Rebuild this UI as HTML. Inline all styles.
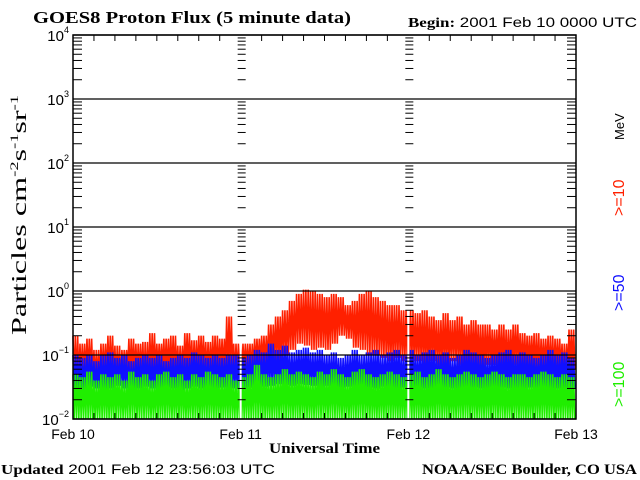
<!DOCTYPE html>
<html><head><meta charset="utf-8"><style>
body{margin:0;background:#fff;width:640px;height:480px;overflow:hidden}
svg{display:block}
</style></head><body>
<svg id="c" width="640" height="480" xmlns="http://www.w3.org/2000/svg">
<text x="33" y="23" textLength="318" lengthAdjust="spacingAndGlyphs" font-family="Liberation Serif, serif" font-weight="bold" font-size="17">GOES8 Proton Flux (5 minute data)</text>
<text x="408" y="27" textLength="229" lengthAdjust="spacingAndGlyphs" font-family="Liberation Sans, sans-serif" font-size="14"><tspan font-family="Liberation Serif, serif" font-weight="bold">Begin:</tspan> 2001 Feb 10 0000 UTC</text>
<text x="1" y="474" textLength="274" lengthAdjust="spacingAndGlyphs" font-family="Liberation Sans, sans-serif" font-size="14"><tspan font-family="Liberation Serif, serif" font-weight="bold">Updated</tspan> 2001 Feb 12 23:56:03 UTC</text>
<text x="422" y="474" textLength="215" lengthAdjust="spacingAndGlyphs" font-family="Liberation Serif, serif" font-weight="bold" font-size="15">NOAA/SEC Boulder, CO USA</text>
<text x="269" y="453" textLength="111" lengthAdjust="spacingAndGlyphs" font-family="Liberation Serif, serif" font-weight="bold" font-size="15">Universal Time</text>
<text transform="translate(26,335) rotate(-90)" textLength="240" lengthAdjust="spacingAndGlyphs" font-family="Liberation Serif, serif" font-size="21">Particles cm<tspan font-size="12" dy="-8">-2</tspan><tspan dy="8">s</tspan><tspan font-size="12" dy="-8">-1</tspan><tspan dy="8">sr</tspan><tspan font-size="12" dy="-8">-1</tspan></text>
<text transform="translate(624,140) rotate(-90)" font-family="Liberation Sans, sans-serif" font-size="13" fill="#000">MeV</text>
<text transform="translate(624,216) rotate(-90)" font-family="Liberation Sans, sans-serif" font-size="16" fill="#ff2000">&gt;=10</text>
<text transform="translate(624,311) rotate(-90)" font-family="Liberation Sans, sans-serif" font-size="16" fill="#1010ff">&gt;=50</text>
<text transform="translate(624,407) rotate(-90)" font-family="Liberation Sans, sans-serif" font-size="16" fill="#20ee00">&gt;=100</text>
<g id="g"></g>
</svg>
<script>
const dayLabels=["Feb 10","Feb 11","Feb 12","Feb 13"];
const decadeExps=[-2,-1,0,1,2,3,4];
// hourly envelopes (max / min of 5-minute flux within each hour)
const redHi=[0.2,0.15,0.18,0.12,0.15,0.2,0.14,0.12,0.18,0.15,0.16,0.22,0.15,0.18,0.2,0.14,0.22,0.17,0.2,0.16,0.2,0.18,0.4,0.15,
0.15,0.15,0.18,0.2,0.3,0.4,0.5,0.7,0.9,1.05,1.0,0.9,0.8,0.9,0.8,0.6,0.7,0.9,1.0,0.8,0.7,0.6,0.6,0.5,
0.5,0.45,0.5,0.4,0.35,0.45,0.35,0.4,0.3,0.35,0.3,0.3,0.25,0.3,0.25,0.3,0.22,0.2,0.22,0.18,0.2,0.18,0.15,0.25];
const redLo=[0.04,0.05,0.05,0.04,0.05,0.05,0.04,0.06,0.05,0.05,0.04,0.05,0.06,0.05,0.05,0.05,0.06,0.05,0.06,0.05,0.05,0.06,0.06,0.05,
0.06,0.06,0.07,0.07,0.08,0.08,0.1,0.12,0.15,0.14,0.12,0.13,0.12,0.15,0.2,0.18,0.13,0.12,0.1,0.1,0.09,0.08,0.09,0.08,
0.08,0.08,0.07,0.08,0.07,0.07,0.08,0.07,0.07,0.07,0.06,0.07,0.07,0.06,0.06,0.07,0.06,0.06,0.05,0.06,0.05,0.06,0.05,0.06];
const blueHi=[0.1,0.09,0.1,0.08,0.1,0.11,0.09,0.1,0.08,0.09,0.1,0.09,0.1,0.08,0.09,0.1,0.09,0.11,0.1,0.09,0.1,0.09,0.1,0.1,
0.09,0.1,0.12,0.11,0.15,0.12,0.14,0.11,0.12,0.13,0.11,0.12,0.1,0.11,0.09,0.1,0.12,0.1,0.11,0.12,0.1,0.11,0.12,0.1,
0.12,0.1,0.11,0.12,0.1,0.11,0.09,0.1,0.12,0.11,0.1,0.09,0.1,0.11,0.12,0.1,0.11,0.1,0.09,0.1,0.12,0.1,0.11,0.09];
const blueLo=[0.03,0.028,0.032,0.03,0.027,0.03,0.033,0.03,0.028,0.03,0.032,0.03,0.029,0.031,0.03,0.028,0.03,0.032,0.03,0.029,0.03,0.031,0.03,0.03,
0.03,0.031,0.03,0.032,0.033,0.035,0.034,0.033,0.035,0.034,0.033,0.032,0.033,0.032,0.031,0.032,0.033,0.032,0.031,0.03,0.032,0.031,0.03,0.031,
0.03,0.031,0.03,0.029,0.03,0.031,0.03,0.029,0.03,0.031,0.03,0.029,0.03,0.031,0.03,0.029,0.03,0.031,0.03,0.029,0.03,0.03,0.029,0.03];
const greenHi=[0.05,0.045,0.055,0.04,0.05,0.045,0.05,0.04,0.055,0.045,0.05,0.04,0.05,0.055,0.045,0.05,0.04,0.05,0.045,0.055,0.05,0.045,0.05,0.04,
0.045,0.05,0.07,0.05,0.045,0.05,0.06,0.05,0.055,0.05,0.045,0.055,0.05,0.06,0.05,0.045,0.055,0.06,0.05,0.045,0.05,0.055,0.05,0.045,
0.05,0.055,0.045,0.05,0.06,0.05,0.045,0.05,0.055,0.05,0.045,0.05,0.055,0.05,0.045,0.05,0.05,0.045,0.05,0.055,0.05,0.045,0.05,0.045];
const greenLo=[0.01,0.01,0.01,0.01,0.01,0.01,0.01,0.01,0.01,0.01,0.01,0.01,0.01,0.01,0.01,0.01,0.01,0.01,0.01,0.01,0.01,0.01,0.01,0.01,
0.01,0.01,0.01,0.01,0.01,0.01,0.01,0.01,0.01,0.01,0.01,0.01,0.01,0.01,0.01,0.01,0.01,0.01,0.01,0.01,0.01,0.01,0.01,0.01,
0.01,0.01,0.01,0.01,0.01,0.01,0.01,0.01,0.01,0.01,0.01,0.01,0.01,0.01,0.01,0.01,0.01,0.01,0.01,0.01,0.01,0.01,0.01,0.01];
const L=73,R=576,T=35,B=419,days=3;
const x=t=>L+(R-L)*t/days;            // t in days
const y=v=>B-(Math.log10(v)+2)*(B-T)/6;
const g=document.getElementById('g');
const NS="http://www.w3.org/2000/svg";
function mk(tag,attrs){const e=document.createElementNS(NS,tag);for(const k in attrs)e.setAttribute(k,attrs[k]);g.appendChild(e);return e;}
const TEETH=3;
[[redHi,redLo,'#ff2000','series-10mev'],[blueHi,blueLo,'#1010ff','series-50mev'],[greenHi,greenLo,'#20ee00','series-100mev']].forEach(([hi,lo,col,name])=>{
  const n=hi.length;
  let d='';
  for(let i=0;i<n;i++){
    for(let k=0;k<TEETH*2;k++){
      const t=(i+k/(TEETH*2))*days/n;
      const v=(k%2==0)?hi[i]:lo[i];
      d+=(d?'L':'M')+x(t).toFixed(2)+','+y(v).toFixed(1);
    }
  }
  const p=mk('path',{d:d,fill:'none',stroke:col,'stroke-width':1.6,'stroke-linejoin':'miter'});
  
  
});
for(let k=1;k<days;k++){const l=mk('line',{x1:x(k),x2:x(k),y1:T,y2:B,stroke:'#fff','stroke-width':2});

}
decadeExps.forEach(e=>{
  const yy=y(Math.pow(10,e));
  const l=mk('line',{x1:L,x2:R,y1:yy,y2:yy,stroke:'#000','stroke-width':1.3});
  
  
  const t=mk('text',{x:L-4,y:yy+6,'text-anchor':'end','font-family':'Liberation Sans, sans-serif','font-size':15});
  
  
  t.innerHTML='10<tspan font-size="9" dy="-8">'+(e<0?'\u2212'+(-e):e)+'</tspan>';
  if(e<4){for(let m=2;m<=9;m++){const ym=y(m*Math.pow(10,e));
    [[L,L+9],[x(1)-3,x(1)+5],[x(2)-3,x(2)+5],[R-9,R]].forEach(([a,b])=>{
      const tk=mk('line',{x1:a,x2:b,y1:ym,y2:ym,stroke:'#000','stroke-width':1});
      
      });}}
});
for(let h=0;h<=days*8;h++){const xx=x(h/8);
  if(h%8){[[B,B-6],[T,T+6]].forEach(([a,b])=>{const tk=mk('line',{x1:xx,x2:xx,y1:a,y2:b,stroke:'#000','stroke-width':1});
  
  });}}
dayLabels.forEach((s,i)=>{const t=mk('text',{x:x(i),y:439,'text-anchor':'middle','font-family':'Liberation Sans, sans-serif','font-size':14});
t.textContent=s;

});
const fr=mk('rect',{x:L,y:T,width:R-L,height:B-T,fill:'none',stroke:'#000','stroke-width':1.5});


</script>
</body></html>
